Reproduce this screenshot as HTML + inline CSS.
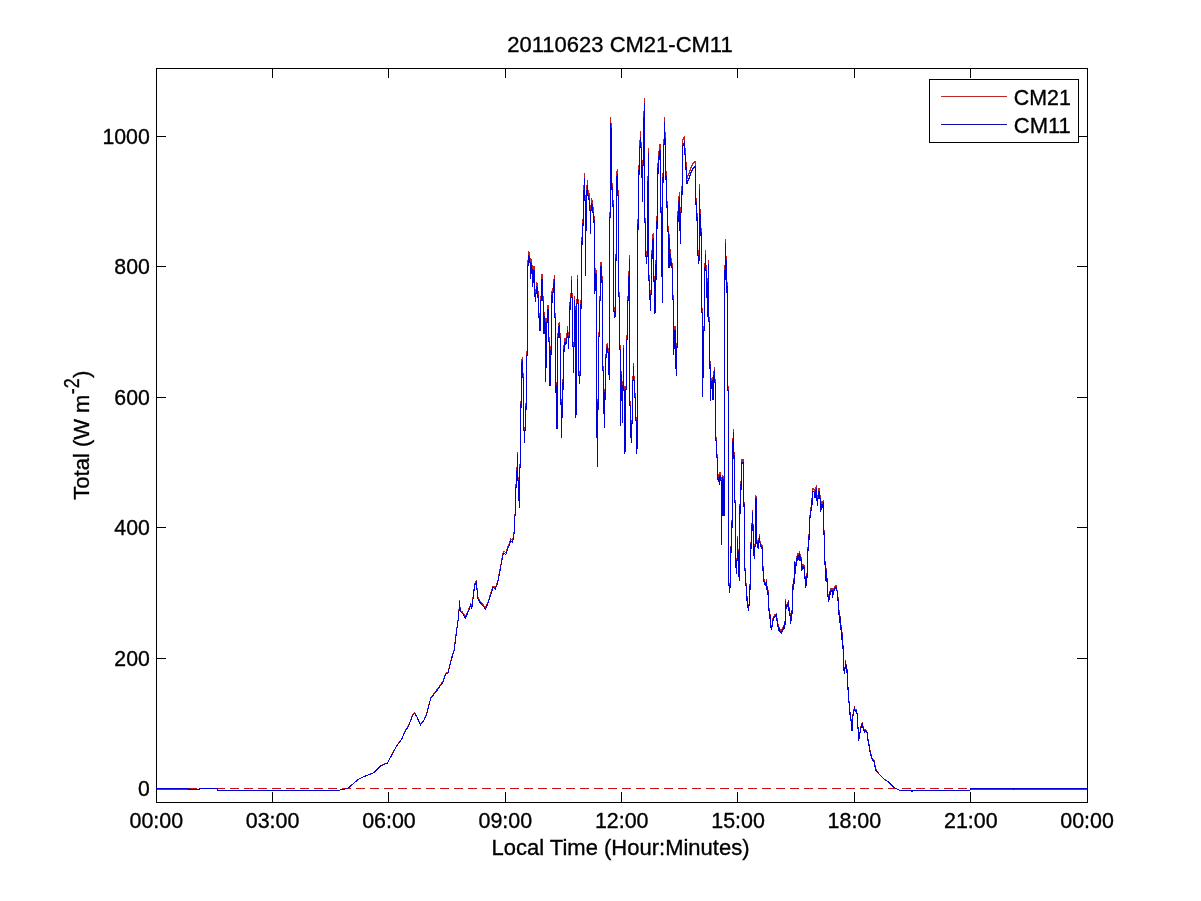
<!DOCTYPE html>
<html><head><meta charset="utf-8"><title>20110623 CM21-CM11</title>
<style>
html,body{margin:0;padding:0;background:#fff;}
svg{display:block;}
text{font-family:"Liberation Sans",Arial,Helvetica,sans-serif;font-size:22.6px;fill:#000;stroke:#000;stroke-width:0.35px;}
</style></head><body>
<svg width="1201" height="901" viewBox="0 0 1201 901">
<rect x="0" y="0" width="1201" height="901" fill="#fff"/>
<g stroke="#000" stroke-width="1" fill="none" shape-rendering="crispEdges">
<rect x="156.5" y="68.5" width="931" height="734"/>
<line x1="272.5" y1="802" x2="272.5" y2="792"/><line x1="272.5" y1="68" x2="272.5" y2="78"/>
<line x1="388.5" y1="802" x2="388.5" y2="792"/><line x1="388.5" y1="68" x2="388.5" y2="78"/>
<line x1="505.5" y1="802" x2="505.5" y2="792"/><line x1="505.5" y1="68" x2="505.5" y2="78"/>
<line x1="621.5" y1="802" x2="621.5" y2="792"/><line x1="621.5" y1="68" x2="621.5" y2="78"/>
<line x1="737.5" y1="802" x2="737.5" y2="792"/><line x1="737.5" y1="68" x2="737.5" y2="78"/>
<line x1="854.5" y1="802" x2="854.5" y2="792"/><line x1="854.5" y1="68" x2="854.5" y2="78"/>
<line x1="970.5" y1="802" x2="970.5" y2="792"/><line x1="970.5" y1="68" x2="970.5" y2="78"/>
<line x1="156" y1="788.5" x2="166" y2="788.5"/><line x1="1087" y1="788.5" x2="1077" y2="788.5"/>
<line x1="156" y1="658.5" x2="166" y2="658.5"/><line x1="1087" y1="658.5" x2="1077" y2="658.5"/>
<line x1="156" y1="527.5" x2="166" y2="527.5"/><line x1="1087" y1="527.5" x2="1077" y2="527.5"/>
<line x1="156" y1="397.5" x2="166" y2="397.5"/><line x1="1087" y1="397.5" x2="1077" y2="397.5"/>
<line x1="156" y1="266.5" x2="166" y2="266.5"/><line x1="1087" y1="266.5" x2="1077" y2="266.5"/>
<line x1="156" y1="136.5" x2="166" y2="136.5"/><line x1="1087" y1="136.5" x2="1077" y2="136.5"/>
</g>
<g fill="none" stroke-width="1" shape-rendering="crispEdges" stroke-linejoin="miter">
<polyline stroke="#c42020" points="156.0,788.5 188.0,788.5 188.5,789.5 199.0,789.5 199.5,788.5 217.0,788.5 217.5,790.5 330.0,790.5 336.0,790.5 343.3,789.5 348.3,788.0 357.5,779.9 361.7,777.4 373.3,772.9 380.8,765.6 387.5,762.8 396.7,745.5 401.7,738.8 405.0,731.2 408.3,726.2 412.5,715.2 414.7,712.7 416.7,716.1 420.5,724.5 424.2,719.5 426.7,713.6 430.8,697.6 436.7,690.0 443.3,680.8 445.5,673.3 448.0,672.4 450.8,660.7 454.2,648.9 456.7,628.7 458.7,615.3 459.5,599.8 460.3,610.3 462.5,611.9 465.3,616.6 468.3,610.3 470.8,603.5 471.7,607.8 474.7,583.4 476.3,580.9 477.8,596.8 480.0,601.0 483.0,604.3 485.5,607.8 488.3,601.0 493.0,585.9 495.3,587.6 497.8,580.9 503.3,551.4 505.8,552.3 510.8,538.8 512.5,540.5 514.2,531.3 515.3,507.8 515.5,507.8 515.5,484.6 516.5,484.6 516.5,467.5 517.5,467.5 517.5,451.5 517.5,477.5 518.5,477.5 518.5,497.7 519.5,497.7 519.5,505.3 519.5,464.4 520.5,464.4 520.5,400.9 521.5,405.0 521.5,359.1 522.5,358.6 522.5,356.6 522.5,373.7 523.5,373.7 523.5,427.1 524.5,427.1 524.5,440.2 524.5,427.1 525.5,427.1 525.5,402.9 526.5,407.0 526.5,351.5 527.5,351.5 527.5,260.8 528.5,260.8 528.5,250.7 528.5,253.8 529.5,251.7 529.5,257.8 530.5,258.3 530.5,274.7 531.5,265.9 531.5,258.8 531.5,263.8 532.5,266.9 532.5,283.0 533.5,275.9 533.5,265.9 533.5,267.9 534.5,266.9 534.5,292.1 535.5,292.1 535.5,298.1 535.5,291.1 536.5,288.0 536.5,282.0 536.5,284.0 537.5,283.5 537.5,293.6 538.5,291.1 538.5,313.7 539.5,313.2 539.5,326.9 540.5,326.9 540.5,296.1 541.5,296.1 541.5,274.9 542.5,274.9 542.5,296.1 543.5,296.1 543.5,330.1 544.5,330.1 544.5,312.2 544.5,318.3 545.5,318.3 545.5,378.8 546.5,351.5 546.5,318.3 547.5,318.3 547.5,305.2 548.5,305.2 548.5,337.4 549.5,337.4 549.5,382.4 550.5,381.8 550.5,346.5 551.5,351.5 551.5,291.1 552.5,298.6 552.5,288.0 553.5,288.0 553.5,279.7 554.5,280.0 554.5,274.9 554.5,313.7 555.5,313.7 555.5,389.3 556.5,381.8 556.5,425.9 557.5,425.1 557.5,333.9 558.5,333.4 558.5,323.3 559.5,322.3 559.5,333.4 560.5,333.9 560.5,400.7 561.5,399.4 561.5,434.7 561.5,417.1 562.5,412.0 562.5,379.3 563.5,386.8 563.5,345.2 564.5,348.5 564.5,338.9 565.5,338.9 565.5,341.5 566.5,338.9 566.5,333.9 567.5,333.4 567.5,326.3 567.5,332.4 568.5,332.4 568.5,345.9 568.5,336.4 569.5,331.4 569.5,302.1 570.5,306.2 570.5,293.6 571.5,293.1 571.5,275.9 571.5,292.1 572.5,293.6 572.5,342.5 573.5,342.5 573.5,369.2 573.5,342.5 574.5,342.5 574.5,296.1 574.5,306.2 575.5,306.2 575.5,414.5 576.5,409.0 576.5,299.1 577.5,299.1 577.5,274.9 577.5,299.1 578.5,299.1 578.5,371.7 579.5,371.7 579.5,381.2 579.5,373.7 580.5,371.7 580.5,300.1 581.5,305.2 581.5,236.6 582.5,240.7 582.5,219.5 583.5,220.5 583.5,185.2 584.5,185.2 584.5,172.6 584.5,195.3 585.5,195.3 585.5,271.5 585.5,225.5 586.5,225.5 586.5,185.2 587.5,185.2 587.5,180.2 587.5,190.3 588.5,190.3 588.5,195.3 589.5,193.3 589.5,205.4 590.5,205.4 590.5,229.3 590.5,210.4 591.5,202.4 591.5,198.3 591.5,201.3 592.5,200.3 592.5,207.4 593.5,207.4 593.5,218.0 594.5,216.5 594.5,289.8 595.5,284.0 595.5,268.4 595.5,271.9 596.5,270.9 596.5,434.7 597.5,434.2 597.5,464.3 597.5,399.4 598.5,407.0 598.5,332.4 599.5,332.4 599.5,296.1 600.5,296.1 600.5,261.8 600.5,265.9 601.5,261.8 601.5,278.5 602.5,276.9 602.5,366.7 603.5,366.7 603.5,410.8 604.5,410.0 604.5,424.6 604.5,389.3 605.5,396.9 605.5,354.1 606.5,353.6 606.5,344.5 607.5,344.5 607.5,342.5 607.5,348.5 608.5,349.0 608.5,370.7 609.5,370.7 609.5,376.7 609.5,212.9 610.5,212.4 610.5,117.2 610.5,144.9 611.5,122.7 611.5,185.2 612.5,182.7 612.5,201.3 613.5,200.3 613.5,307.2 614.5,307.2 614.5,313.7 614.5,311.2 615.5,313.2 615.5,254.8 616.5,255.8 616.5,171.1 617.5,171.1 617.5,169.1 617.5,190.3 618.5,190.3 618.5,292.1 619.5,292.1 619.5,345.5 620.5,345.5 620.5,422.7 620.5,396.9 621.5,396.9 621.5,370.7 621.5,394.9 622.5,394.9 622.5,419.6 622.5,381.8 623.5,381.8 623.5,344.5 623.5,386.8 624.5,386.8 624.5,451.1 625.5,447.3 625.5,386.8 626.5,385.8 626.5,335.4 627.5,335.4 627.5,296.1 628.5,296.1 628.5,271.9 629.5,271.9 629.5,255.2 629.5,401.9 630.5,401.9 630.5,434.7 631.5,434.2 631.5,439.7 631.5,420.1 632.5,420.1 632.5,376.7 633.5,376.7 633.5,362.6 633.5,376.7 634.5,376.7 634.5,393.9 635.5,393.9 635.5,417.1 636.5,417.1 636.5,451.7 636.5,445.3 637.5,446.0 637.5,219.2 638.5,225.5 638.5,165.1 639.5,170.1 639.5,140.9 640.5,140.9 640.5,131.3 640.5,142.4 641.5,142.4 641.5,172.6 642.5,160.0 642.5,197.2 642.5,160.0 643.5,160.0 643.5,111.6 644.5,111.6 644.5,97.5 644.5,218.0 645.5,218.0 645.5,251.7 646.5,251.7 646.5,260.2 646.5,251.7 647.5,251.7 647.5,176.1 648.5,176.1 648.5,147.9 648.5,275.9 649.5,275.9 649.5,295.1 650.5,295.1 650.5,306.8 650.5,290.0 651.5,290.0 651.5,249.7 652.5,254.8 652.5,234.6 653.5,234.6 653.5,233.1 653.5,278.0 654.5,275.9 654.5,310.0 654.5,308.2 655.5,308.2 655.5,259.8 656.5,275.9 656.5,216.5 657.5,224.5 657.5,163.0 658.5,169.1 658.5,150.9 659.5,155.0 659.5,144.9 660.5,144.9 660.5,144.4 660.5,207.9 661.5,207.4 661.5,271.9 662.5,271.9 662.5,298.6 662.5,172.6 663.5,177.7 663.5,139.4 664.5,139.4 664.5,116.7 664.5,132.8 665.5,132.8 665.5,175.1 666.5,171.1 666.5,202.4 667.5,201.3 667.5,226.5 668.5,226.5 668.5,263.3 669.5,262.8 669.5,233.6 669.5,249.7 670.5,249.7 670.5,261.8 671.5,257.8 671.5,263.3 672.5,263.3 672.5,295.1 673.5,295.1 673.5,351.5 674.5,339.4 674.5,326.3 674.5,336.4 675.5,326.3 675.5,365.6 676.5,356.6 676.5,372.7 676.5,343.5 677.5,344.0 677.5,211.4 678.5,217.5 678.5,196.3 679.5,196.3 679.5,192.3 679.5,225.5 680.5,225.5 680.5,239.4 680.5,207.4 681.5,207.4 681.5,186.2 682.5,190.3 682.5,139.9 683.5,139.9 683.5,137.8 684.5,137.8 684.5,135.8 684.5,148.9 685.5,148.9 685.5,165.1 686.5,162.5 686.5,178.9 687.5,178.2 687.5,175.6 688.5,175.1 688.5,173.1 689.5,173.1 689.5,170.1 690.5,170.1 690.5,167.1 691.5,167.1 691.5,165.1 692.5,165.1 692.5,163.0 693.5,163.0 693.5,162.0 694.5,162.0 694.5,161.0 695.5,161.0 695.5,160.6 695.5,199.3 696.5,198.3 696.5,216.5 697.5,212.9 697.5,250.7 698.5,250.7 698.5,259.6 698.5,255.8 699.5,255.8 699.5,184.2 699.5,209.4 700.5,209.4 700.5,231.6 701.5,227.6 701.5,308.2 702.5,308.2 702.5,393.9 702.5,374.7 703.5,374.2 703.5,326.3 704.5,326.3 704.5,263.3 705.5,262.8 705.5,249.7 705.5,265.9 706.5,265.9 706.5,293.6 707.5,278.5 707.5,312.2 708.5,312.2 708.5,259.8 708.5,317.3 709.5,317.3 709.5,365.6 710.5,360.6 710.5,397.5 710.5,384.8 711.5,384.8 711.5,378.8 712.5,376.7 712.5,395.9 713.5,395.9 713.5,371.7 714.5,371.7 714.5,366.7 714.5,378.8 715.5,379.3 715.5,437.2 716.5,437.2 716.5,454.9 717.5,454.9 717.5,477.5 718.5,474.5 718.5,479.6 719.5,472.5 719.5,482.6 720.5,472.5 720.5,477.5 721.5,477.5 721.5,543.1 721.5,512.8 722.5,512.8 722.5,475.0 723.5,477.5 723.5,513.4 724.5,512.8 724.5,265.9 725.5,265.9 725.5,238.6 725.5,275.9 726.5,255.8 726.5,288.5 727.5,282.0 727.5,386.8 728.5,386.8 728.5,583.4 729.5,583.4 729.5,590.9 729.5,586.4 730.5,585.9 730.5,545.6 731.5,550.6 731.5,520.4 732.5,525.4 732.5,438.2 733.5,438.2 733.5,429.2 733.5,456.1 734.5,452.3 734.5,500.2 735.5,500.2 735.5,565.7 736.5,565.2 736.5,572.0 736.5,558.2 737.5,558.2 737.5,535.5 737.5,549.1 738.5,549.1 738.5,574.3 739.5,574.3 739.5,578.9 739.5,503.7 740.5,511.6 740.5,481.3 741.5,487.6 741.5,459.4 742.5,459.4 742.5,458.9 742.5,461.4 743.5,459.4 743.5,503.7 744.5,502.7 744.5,568.3 745.5,568.3 745.5,583.4 746.5,583.4 746.5,598.5 747.5,597.2 747.5,606.1 748.5,605.6 748.5,609.2 748.5,604.5 749.5,603.5 749.5,584.4 750.5,588.4 750.5,542.0 751.5,546.8 751.5,522.9 752.5,528.9 752.5,509.8 752.5,517.9 753.5,530.5 753.5,553.1 754.5,553.1 754.5,557.6 754.5,544.1 755.5,544.1 755.5,495.2 755.5,496.7 756.5,496.4 756.5,541.8 757.5,541.0 757.5,545.6 758.5,545.1 758.5,547.5 758.5,538.0 759.5,538.0 759.5,534.0 759.5,540.0 760.5,542.0 760.5,544.1 761.5,544.1 761.5,546.1 762.5,545.6 762.5,568.3 763.5,567.0 763.5,579.3 764.5,579.3 764.5,582.4 765.5,582.4 765.5,584.4 766.5,579.3 766.5,588.4 767.5,585.9 767.5,592.4 768.5,590.9 768.5,608.6 769.5,608.6 769.5,617.6 770.5,613.6 770.5,626.2 771.5,625.7 771.5,628.7 771.5,625.7 772.5,624.7 772.5,618.7 773.5,618.7 773.5,616.1 774.5,615.6 774.5,614.6 775.5,614.6 775.5,613.6 775.5,614.6 776.5,613.6 776.5,618.7 777.5,618.7 777.5,624.7 778.5,624.7 778.5,628.7 779.5,627.7 779.5,629.7 780.5,629.7 780.5,631.3 781.5,631.3 781.5,632.5 781.5,629.7 782.5,629.7 782.5,627.7 783.5,627.7 783.5,624.7 784.5,627.7 784.5,621.2 785.5,623.7 785.5,599.5 786.5,607.6 786.5,604.5 787.5,604.5 787.5,602.5 788.5,602.5 788.5,599.5 788.5,608.6 789.5,607.6 789.5,613.6 790.5,613.6 790.5,623.1 790.5,619.7 791.5,618.7 791.5,609.6 792.5,612.4 792.5,584.4 793.5,588.4 793.5,578.3 794.5,582.1 794.5,560.7 795.5,563.2 795.5,572.7 795.5,564.2 796.5,563.2 796.5,557.2 797.5,558.2 797.5,553.1 798.5,558.2 798.5,553.1 799.5,553.1 799.5,550.6 799.5,559.2 800.5,554.1 800.5,559.2 801.5,556.9 801.5,568.3 802.5,567.0 802.5,564.2 803.5,564.2 803.5,566.2 804.5,565.7 804.5,577.1 805.5,576.3 805.5,585.9 805.5,584.4 806.5,583.4 806.5,573.3 807.5,575.8 807.5,546.8 808.5,549.1 808.5,534.0 809.5,538.0 809.5,515.3 810.5,515.3 810.5,507.8 811.5,507.8 811.5,497.7 812.5,502.7 812.5,488.6 813.5,488.6 813.5,488.6 814.5,490.1 814.5,495.2 815.5,495.2 815.5,487.6 816.5,487.6 816.5,485.1 816.5,497.7 817.5,497.7 817.5,503.3 817.5,495.7 818.5,495.7 818.5,488.6 819.5,488.6 819.5,495.7 820.5,495.7 820.5,509.8 820.5,505.8 821.5,507.8 821.5,501.7 822.5,501.7 822.5,505.8 823.5,500.2 823.5,531.7 824.5,530.5 824.5,563.2 825.5,560.7 825.5,579.3 826.5,568.3 826.5,579.3 827.5,578.3 827.5,594.5 828.5,594.5 828.5,600.4 828.5,596.5 829.5,598.5 829.5,590.9 830.5,593.5 830.5,588.4 831.5,588.4 831.5,590.4 832.5,588.4 832.5,596.0 832.5,592.4 833.5,592.4 833.5,588.4 834.5,588.4 834.5,586.4 835.5,586.4 835.5,585.9 836.5,585.9 836.5,588.4 837.5,590.9 837.5,599.5 838.5,597.2 838.5,612.4 839.5,611.1 839.5,621.2 840.5,616.1 840.5,627.5 841.5,626.2 841.5,638.8 842.5,632.5 842.5,647.6 843.5,644.9 843.5,669.1 844.5,669.1 844.5,672.8 844.5,667.0 845.5,667.0 845.5,660.2 845.5,664.0 846.5,664.0 846.5,671.6 847.5,670.1 847.5,689.2 848.5,686.7 848.5,701.8 849.5,701.8 849.5,714.4 850.5,711.9 850.5,719.5 851.5,719.5 851.5,729.5 852.5,729.5 852.5,714.4 853.5,714.4 853.5,709.4 854.5,709.4 854.5,706.4 854.5,709.4 855.5,709.4 855.5,711.4 856.5,709.4 856.5,713.2 857.5,713.2 857.5,728.3 858.5,727.5 858.5,740.2 858.5,738.6 859.5,738.4 859.5,732.1 860.5,732.1 860.5,727.0 861.5,726.5 861.5,723.5 862.5,723.5 862.5,722.0 862.5,726.5 863.5,727.0 863.5,729.5 864.5,729.5 864.5,732.1 865.5,729.5 865.5,730.5 866.5,730.5 866.5,731.6 867.5,732.1 867.5,739.6 868.5,739.6 868.5,744.7 869.5,744.7 869.5,750.7 870.5,750.7 870.5,754.7 871.5,754.7 871.5,758.5 872.5,758.5 872.5,759.8 873.5,759.8 873.5,760.8 874.5,760.8 874.5,765.8 875.5,765.8 875.5,769.9 876.5,769.9 876.5,770.9 878.8,773.6 882.5,777.4 885.0,779.7 887.5,781.2 892.5,786.2 895.0,788.0 899.4,790.4 911.0,790.4 912.0,791.3 913.0,790.4 970.0,790.4 970.5,788.5 1013.0,788.5 1013.5,789.6 1014.5,788.5 1087.0,788.5"/>
<line x1="157" y1="788.5" x2="1087" y2="788.5" stroke="#c81010" stroke-dasharray="9.4 4.6" stroke-dashoffset="11.25"/>
<path stroke="#b01060" d="M157 789.5H188M970 789.5H1087"/>
<polyline stroke="#0000dc" points="156.0,788.5 188.0,788.5 188.5,789.5 199.0,789.5 199.5,788.5 217.0,788.5 217.5,790.5 330.0,790.5 336.0,790.5 343.3,789.5 348.3,788.0 357.5,780.0 361.7,777.5 373.3,773.0 380.8,765.8 387.5,763.0 396.7,745.8 401.7,739.2 405.0,731.7 408.3,726.7 412.5,715.8 414.7,713.3 416.7,716.7 420.5,725.0 424.2,720.0 426.7,714.2 430.8,698.3 436.7,690.8 443.3,681.7 445.5,674.2 448.0,673.3 450.8,661.7 454.2,650.0 456.7,630.0 458.7,616.7 459.5,601.3 460.3,611.7 462.5,613.3 465.3,618.0 468.3,611.7 470.8,605.0 471.7,609.2 474.7,585.0 476.3,582.5 477.8,598.3 480.0,602.5 483.0,605.8 485.5,609.2 488.3,602.5 493.0,587.5 495.3,589.2 497.8,582.5 503.3,553.3 505.8,554.2 510.8,540.8 512.5,542.5 514.2,533.3 515.3,510.0 515.5,510.0 515.5,487.0 516.5,487.0 516.5,470.0 517.5,470.0 517.5,454.2 517.5,480.0 518.5,480.0 518.5,500.0 519.5,500.0 519.5,507.5 519.5,467.0 520.5,467.0 520.5,404.0 521.5,408.0 521.5,362.5 522.5,362.0 522.5,360.0 522.5,377.0 523.5,377.0 523.5,430.0 524.5,430.0 524.5,443.0 524.5,430.0 525.5,430.0 525.5,406.0 526.5,410.0 526.5,355.0 527.5,355.0 527.5,265.0 528.5,265.0 528.5,255.0 528.5,258.0 529.5,256.0 529.5,262.0 530.5,262.5 530.5,278.8 531.5,270.0 531.5,263.0 531.5,268.0 532.5,271.0 532.5,287.0 533.5,280.0 533.5,270.0 533.5,272.0 534.5,271.0 534.5,296.0 535.5,296.0 535.5,302.0 535.5,295.0 536.5,292.0 536.5,286.0 536.5,288.0 537.5,287.5 537.5,297.5 538.5,295.0 538.5,317.5 539.5,317.0 539.5,330.6 540.5,330.6 540.5,300.0 541.5,300.0 541.5,279.0 542.5,279.0 542.5,300.0 543.5,300.0 543.5,333.8 544.5,333.8 544.5,316.0 544.5,322.0 545.5,322.0 545.5,382.0 546.5,355.0 546.5,322.0 547.5,322.0 547.5,309.0 548.5,309.0 548.5,341.0 549.5,341.0 549.5,385.6 550.5,385.0 550.5,350.0 551.5,355.0 551.5,295.0 552.5,302.5 552.5,292.0 553.5,292.0 553.5,283.8 554.5,284.0 554.5,279.0 554.5,317.5 555.5,317.5 555.5,392.5 556.5,385.0 556.5,428.8 557.5,428.0 557.5,337.5 558.5,337.0 558.5,327.0 559.5,326.0 559.5,337.0 560.5,337.5 560.5,403.8 561.5,402.5 561.5,437.5 561.5,420.0 562.5,415.0 562.5,382.5 563.5,390.0 563.5,348.8 564.5,352.0 564.5,342.5 565.5,342.5 565.5,345.0 566.5,342.5 566.5,337.5 567.5,337.0 567.5,330.0 567.5,336.0 568.5,336.0 568.5,349.4 568.5,340.0 569.5,335.0 569.5,306.0 570.5,310.0 570.5,297.5 571.5,297.0 571.5,280.0 571.5,296.0 572.5,297.5 572.5,346.0 573.5,346.0 573.5,372.5 573.5,346.0 574.5,346.0 574.5,300.0 574.5,310.0 575.5,310.0 575.5,417.5 576.5,412.0 576.5,303.0 577.5,303.0 577.5,279.0 577.5,303.0 578.5,303.0 578.5,375.0 579.5,375.0 579.5,384.4 579.5,377.0 580.5,375.0 580.5,304.0 581.5,309.0 581.5,241.0 582.5,245.0 582.5,224.0 583.5,225.0 583.5,190.0 584.5,190.0 584.5,177.5 584.5,200.0 585.5,200.0 585.5,275.6 585.5,230.0 586.5,230.0 586.5,190.0 587.5,190.0 587.5,185.0 587.5,195.0 588.5,195.0 588.5,200.0 589.5,198.0 589.5,210.0 590.5,210.0 590.5,233.8 590.5,215.0 591.5,207.0 591.5,203.0 591.5,206.0 592.5,205.0 592.5,212.0 593.5,212.0 593.5,222.5 594.5,221.0 594.5,293.8 595.5,288.0 595.5,272.5 595.5,276.0 596.5,275.0 596.5,437.5 597.5,437.0 597.5,466.9 597.5,402.5 598.5,410.0 598.5,336.0 599.5,336.0 599.5,300.0 600.5,300.0 600.5,266.0 600.5,270.0 601.5,266.0 601.5,282.5 602.5,281.0 602.5,370.0 603.5,370.0 603.5,413.8 604.5,413.0 604.5,427.5 604.5,392.5 605.5,400.0 605.5,357.5 606.5,357.0 606.5,348.0 607.5,348.0 607.5,346.0 607.5,352.0 608.5,352.5 608.5,374.0 609.5,374.0 609.5,380.0 609.5,217.5 610.5,217.0 610.5,122.5 610.5,150.0 611.5,128.0 611.5,190.0 612.5,187.5 612.5,206.0 613.5,205.0 613.5,311.0 614.5,311.0 614.5,317.5 614.5,315.0 615.5,317.0 615.5,259.0 616.5,260.0 616.5,176.0 617.5,176.0 617.5,174.0 617.5,195.0 618.5,195.0 618.5,296.0 619.5,296.0 619.5,349.0 620.5,349.0 620.5,425.6 620.5,400.0 621.5,400.0 621.5,374.0 621.5,398.0 622.5,398.0 622.5,422.5 622.5,385.0 623.5,385.0 623.5,348.0 623.5,390.0 624.5,390.0 624.5,453.8 625.5,450.0 625.5,390.0 626.5,389.0 626.5,339.0 627.5,339.0 627.5,300.0 628.5,300.0 628.5,276.0 629.5,276.0 629.5,259.4 629.5,405.0 630.5,405.0 630.5,437.5 631.5,437.0 631.5,442.5 631.5,423.0 632.5,423.0 632.5,380.0 633.5,380.0 633.5,366.0 633.5,380.0 634.5,380.0 634.5,397.0 635.5,397.0 635.5,420.0 636.5,420.0 636.5,454.4 636.5,448.0 637.5,448.8 637.5,223.8 638.5,230.0 638.5,170.0 639.5,175.0 639.5,146.0 640.5,146.0 640.5,136.5 640.5,147.5 641.5,147.5 641.5,177.5 642.5,165.0 642.5,201.9 642.5,165.0 643.5,165.0 643.5,117.0 644.5,117.0 644.5,103.0 644.5,222.5 645.5,222.5 645.5,256.0 646.5,256.0 646.5,264.4 646.5,256.0 647.5,256.0 647.5,181.0 648.5,181.0 648.5,153.0 648.5,280.0 649.5,280.0 649.5,299.0 650.5,299.0 650.5,310.6 650.5,294.0 651.5,294.0 651.5,254.0 652.5,259.0 652.5,239.0 653.5,239.0 653.5,237.5 653.5,282.0 654.5,280.0 654.5,313.8 654.5,312.0 655.5,312.0 655.5,264.0 656.5,280.0 656.5,221.0 657.5,229.0 657.5,168.0 658.5,174.0 658.5,156.0 659.5,160.0 659.5,150.0 660.5,150.0 660.5,149.5 660.5,212.5 661.5,212.0 661.5,276.0 662.5,276.0 662.5,302.5 662.5,177.5 663.5,182.5 663.5,144.5 664.5,144.5 664.5,122.0 664.5,138.0 665.5,138.0 665.5,180.0 666.5,176.0 666.5,207.0 667.5,206.0 667.5,231.0 668.5,231.0 668.5,267.5 669.5,267.0 669.5,238.0 669.5,254.0 670.5,254.0 670.5,266.0 671.5,262.0 671.5,267.5 672.5,267.5 672.5,299.0 673.5,299.0 673.5,355.0 674.5,343.0 674.5,330.0 674.5,340.0 675.5,330.0 675.5,369.0 676.5,360.0 676.5,376.0 676.5,347.0 677.5,347.5 677.5,216.0 678.5,222.0 678.5,201.0 679.5,201.0 679.5,197.0 679.5,230.0 680.5,230.0 680.5,243.8 680.5,212.0 681.5,212.0 681.5,191.0 682.5,195.0 682.5,145.0 683.5,145.0 683.5,143.0 684.5,143.0 684.5,141.0 684.5,154.0 685.5,154.0 685.5,170.0 686.5,167.5 686.5,183.8 687.5,183.0 687.5,180.5 688.5,180.0 688.5,178.0 689.5,178.0 689.5,175.0 690.5,175.0 690.5,172.0 691.5,172.0 691.5,170.0 692.5,170.0 692.5,168.0 693.5,168.0 693.5,167.0 694.5,167.0 694.5,166.0 695.5,166.0 695.5,165.6 695.5,204.0 696.5,203.0 696.5,221.0 697.5,217.5 697.5,255.0 698.5,255.0 698.5,263.8 698.5,260.0 699.5,260.0 699.5,189.0 699.5,214.0 700.5,214.0 700.5,236.0 701.5,232.0 701.5,312.0 702.5,312.0 702.5,397.0 702.5,378.0 703.5,377.5 703.5,330.0 704.5,330.0 704.5,267.5 705.5,267.0 705.5,254.0 705.5,270.0 706.5,270.0 706.5,297.5 707.5,282.5 707.5,316.0 708.5,316.0 708.5,264.0 708.5,321.0 709.5,321.0 709.5,369.0 710.5,364.0 710.5,400.6 710.5,388.0 711.5,388.0 711.5,382.0 712.5,380.0 712.5,399.0 713.5,399.0 713.5,375.0 714.5,375.0 714.5,370.0 714.5,382.0 715.5,382.5 715.5,440.0 716.5,440.0 716.5,457.5 717.5,457.5 717.5,480.0 718.5,477.0 718.5,482.0 719.5,475.0 719.5,485.0 720.5,475.0 720.5,480.0 721.5,480.0 721.5,545.0 721.5,515.0 722.5,515.0 722.5,477.5 723.5,480.0 723.5,515.6 724.5,515.0 724.5,270.0 725.5,270.0 725.5,243.0 725.5,280.0 726.5,260.0 726.5,292.5 727.5,286.0 727.5,390.0 728.5,390.0 728.5,585.0 729.5,585.0 729.5,592.5 729.5,588.0 730.5,587.5 730.5,547.5 731.5,552.5 731.5,522.5 732.5,527.5 732.5,441.0 733.5,441.0 733.5,432.0 733.5,458.8 734.5,455.0 734.5,502.5 735.5,502.5 735.5,567.5 736.5,567.0 736.5,573.8 736.5,560.0 737.5,560.0 737.5,537.5 737.5,551.0 738.5,551.0 738.5,576.0 739.5,576.0 739.5,580.6 739.5,506.0 740.5,513.8 740.5,483.8 741.5,490.0 741.5,462.0 742.5,462.0 742.5,461.5 742.5,464.0 743.5,462.0 743.5,506.0 744.5,505.0 744.5,570.0 745.5,570.0 745.5,585.0 746.5,585.0 746.5,600.0 747.5,598.8 747.5,607.5 748.5,607.0 748.5,610.6 748.5,606.0 749.5,605.0 749.5,586.0 750.5,590.0 750.5,544.0 751.5,548.8 751.5,525.0 752.5,531.0 752.5,512.0 752.5,520.0 753.5,532.5 753.5,555.0 754.5,555.0 754.5,559.4 754.5,546.0 755.5,546.0 755.5,497.5 755.5,499.0 756.5,498.8 756.5,543.8 757.5,543.0 757.5,547.5 758.5,547.0 758.5,549.4 758.5,540.0 759.5,540.0 759.5,536.0 759.5,542.0 760.5,544.0 760.5,546.0 761.5,546.0 761.5,548.0 762.5,547.5 762.5,570.0 763.5,568.8 763.5,581.0 764.5,581.0 764.5,584.0 765.5,584.0 765.5,586.0 766.5,581.0 766.5,590.0 767.5,587.5 767.5,594.0 768.5,592.5 768.5,610.0 769.5,610.0 769.5,619.0 770.5,615.0 770.5,627.5 771.5,627.0 771.5,630.0 771.5,627.0 772.5,626.0 772.5,620.0 773.5,620.0 773.5,617.5 774.5,617.0 774.5,616.0 775.5,616.0 775.5,615.0 775.5,616.0 776.5,615.0 776.5,620.0 777.5,620.0 777.5,626.0 778.5,626.0 778.5,630.0 779.5,629.0 779.5,631.0 780.5,631.0 780.5,632.5 781.5,632.5 781.5,633.8 781.5,631.0 782.5,631.0 782.5,629.0 783.5,629.0 783.5,626.0 784.5,629.0 784.5,622.5 785.5,625.0 785.5,601.0 786.5,609.0 786.5,606.0 787.5,606.0 787.5,604.0 788.5,604.0 788.5,601.0 788.5,610.0 789.5,609.0 789.5,615.0 790.5,615.0 790.5,624.4 790.5,621.0 791.5,620.0 791.5,611.0 792.5,613.8 792.5,586.0 793.5,590.0 793.5,580.0 794.5,583.8 794.5,562.5 795.5,565.0 795.5,574.4 795.5,566.0 796.5,565.0 796.5,559.0 797.5,560.0 797.5,555.0 798.5,560.0 798.5,555.0 799.5,555.0 799.5,552.5 799.5,561.0 800.5,556.0 800.5,561.0 801.5,558.8 801.5,570.0 802.5,568.8 802.5,566.0 803.5,566.0 803.5,568.0 804.5,567.5 804.5,578.8 805.5,578.0 805.5,587.5 805.5,586.0 806.5,585.0 806.5,575.0 807.5,577.5 807.5,548.8 808.5,551.0 808.5,536.0 809.5,540.0 809.5,517.5 810.5,517.5 810.5,510.0 811.5,510.0 811.5,500.0 812.5,505.0 812.5,491.0 813.5,491.0 813.5,491.0 814.5,492.5 814.5,497.5 815.5,497.5 815.5,490.0 816.5,490.0 816.5,487.5 816.5,500.0 817.5,500.0 817.5,505.6 817.5,498.0 818.5,498.0 818.5,491.0 819.5,491.0 819.5,498.0 820.5,498.0 820.5,512.0 820.5,508.0 821.5,510.0 821.5,504.0 822.5,504.0 822.5,508.0 823.5,502.5 823.5,533.8 824.5,532.5 824.5,565.0 825.5,562.5 825.5,581.0 826.5,570.0 826.5,581.0 827.5,580.0 827.5,596.0 828.5,596.0 828.5,601.9 828.5,598.0 829.5,600.0 829.5,592.5 830.5,595.0 830.5,590.0 831.5,590.0 831.5,592.0 832.5,590.0 832.5,597.5 832.5,594.0 833.5,594.0 833.5,590.0 834.5,590.0 834.5,588.0 835.5,588.0 835.5,587.5 836.5,587.5 836.5,590.0 837.5,592.5 837.5,601.0 838.5,598.8 838.5,613.8 839.5,612.5 839.5,622.5 840.5,617.5 840.5,628.8 841.5,627.5 841.5,640.0 842.5,633.8 842.5,648.8 843.5,646.0 843.5,670.0 844.5,670.0 844.5,673.8 844.5,668.0 845.5,668.0 845.5,661.2 845.5,665.0 846.5,665.0 846.5,672.5 847.5,671.0 847.5,690.0 848.5,687.5 848.5,702.5 849.5,702.5 849.5,715.0 850.5,712.5 850.5,720.0 851.5,720.0 851.5,730.0 852.5,730.0 852.5,715.0 853.5,715.0 853.5,710.0 854.5,710.0 854.5,707.0 854.5,710.0 855.5,710.0 855.5,712.0 856.5,710.0 856.5,713.8 857.5,713.8 857.5,728.8 858.5,728.0 858.5,740.6 858.5,739.0 859.5,738.8 859.5,732.5 860.5,732.5 860.5,727.5 861.5,727.0 861.5,724.0 862.5,724.0 862.5,722.5 862.5,727.0 863.5,727.5 863.5,730.0 864.5,730.0 864.5,732.5 865.5,730.0 865.5,731.0 866.5,731.0 866.5,732.0 867.5,732.5 867.5,740.0 868.5,740.0 868.5,745.0 869.5,745.0 869.5,751.0 870.5,751.0 870.5,755.0 871.5,755.0 871.5,758.8 872.5,758.8 872.5,760.0 873.5,760.0 873.5,761.0 874.5,761.0 874.5,766.0 875.5,766.0 875.5,770.0 876.5,770.0 876.5,771.0 878.8,773.8 882.5,777.5 885.0,779.8 887.5,781.2 892.5,786.2 895.0,788.0 899.4,790.4 911.0,790.4 912.0,791.3 913.0,790.4 970.0,790.4 970.5,788.5 1013.0,788.5 1013.5,789.6 1014.5,788.5 1087.0,788.5"/>
</g>
<text x="156.3" y="827.6" text-anchor="middle" textLength="53.6" lengthAdjust="spacingAndGlyphs">00:00</text>
<text x="272.6" y="827.6" text-anchor="middle" textLength="53.6" lengthAdjust="spacingAndGlyphs">03:00</text>
<text x="389.0" y="827.6" text-anchor="middle" textLength="53.6" lengthAdjust="spacingAndGlyphs">06:00</text>
<text x="505.3" y="827.6" text-anchor="middle" textLength="53.6" lengthAdjust="spacingAndGlyphs">09:00</text>
<text x="621.7" y="827.6" text-anchor="middle" textLength="53.6" lengthAdjust="spacingAndGlyphs">12:00</text>
<text x="738.1" y="827.6" text-anchor="middle" textLength="53.6" lengthAdjust="spacingAndGlyphs">15:00</text>
<text x="854.4" y="827.6" text-anchor="middle" textLength="53.6" lengthAdjust="spacingAndGlyphs">18:00</text>
<text x="970.8" y="827.6" text-anchor="middle" textLength="53.6" lengthAdjust="spacingAndGlyphs">21:00</text>
<text x="1087.1" y="827.6" text-anchor="middle" textLength="53.6" lengthAdjust="spacingAndGlyphs">00:00</text>
<text x="149.8" y="795.7" text-anchor="end" textLength="11.8" lengthAdjust="spacingAndGlyphs">0</text>
<text x="149.8" y="665.7" text-anchor="end" textLength="35.5" lengthAdjust="spacingAndGlyphs">200</text>
<text x="149.8" y="534.7" text-anchor="end" textLength="35.5" lengthAdjust="spacingAndGlyphs">400</text>
<text x="149.8" y="404.7" text-anchor="end" textLength="35.5" lengthAdjust="spacingAndGlyphs">600</text>
<text x="149.8" y="273.7" text-anchor="end" textLength="35.5" lengthAdjust="spacingAndGlyphs">800</text>
<text x="149.8" y="143.7" text-anchor="end" textLength="47.4" lengthAdjust="spacingAndGlyphs">1000</text>
<text x="620" y="52" text-anchor="middle" textLength="225.4" lengthAdjust="spacingAndGlyphs">20110623 CM21-CM11</text>
<text x="620.5" y="854.6" text-anchor="middle" textLength="258" lengthAdjust="spacingAndGlyphs">Local Time (Hour:Minutes)</text>
<g transform="translate(89,435.4) rotate(-90)"><text x="-64.3" y="0" textLength="105.1" lengthAdjust="spacingAndGlyphs">Total (W m</text><text x="41.2" y="-10" font-size="18.4px" textLength="16" lengthAdjust="spacingAndGlyphs">-2</text><text x="57.4" y="0">)</text></g>
<g shape-rendering="crispEdges"><rect x="929.5" y="79.5" width="149" height="63" fill="#fff" stroke="#000" stroke-width="1"/>
<line x1="941" y1="96.5" x2="1007" y2="96.5" stroke="#c02828" stroke-width="1"/>
<line x1="941" y1="124.5" x2="1007" y2="124.5" stroke="#1010b0" stroke-width="1"/></g>
<text x="1013.8" y="104.5" textLength="57" lengthAdjust="spacingAndGlyphs">CM21</text>
<text x="1013.8" y="132.5" textLength="57" lengthAdjust="spacingAndGlyphs">CM11</text>
</svg>
</body></html>
